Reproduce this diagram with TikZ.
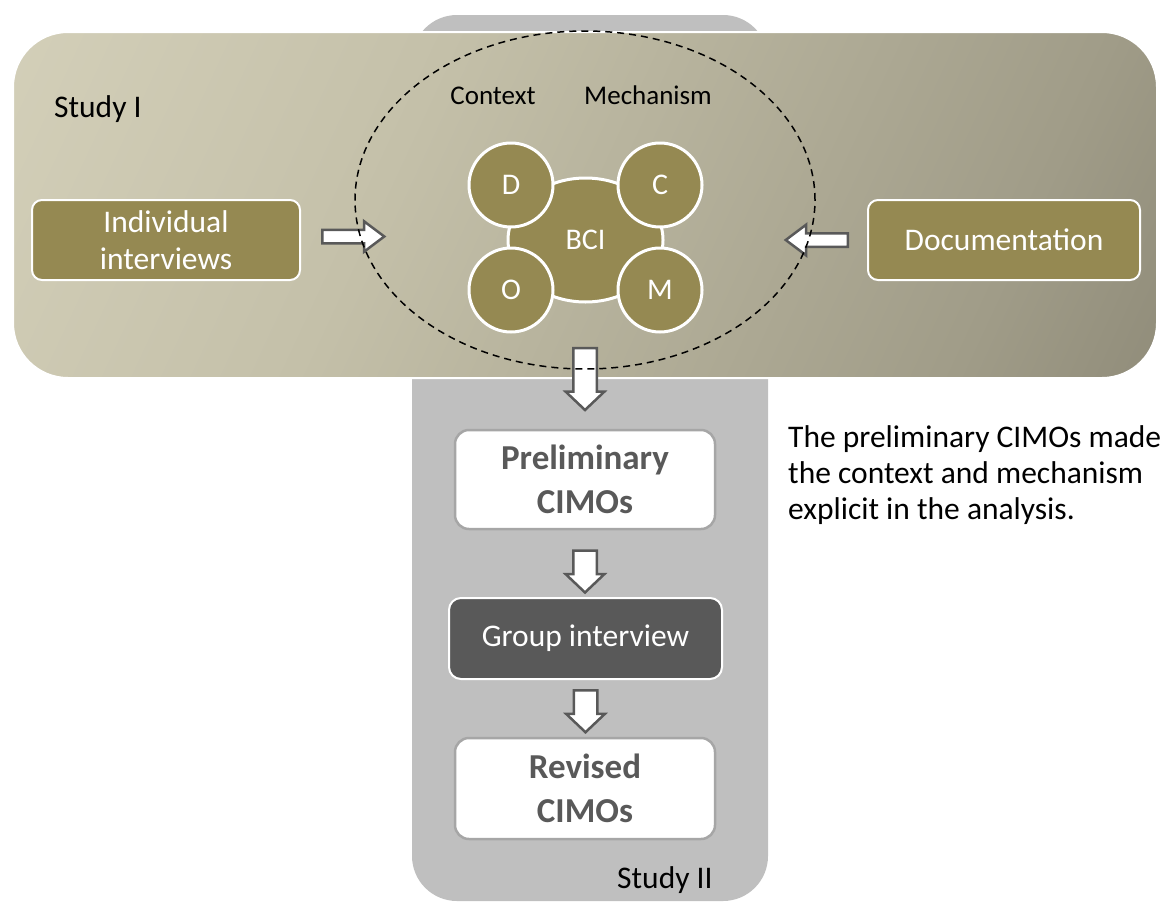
\documentclass[tikz,border=0pt]{standalone}
\usepackage{fontspec}
\setmainfont{Carlito}
\usetikzlibrary{shapes.arrows,shapes.geometric,calc}

\definecolor{boxolive}{RGB}{149,137,82}
\definecolor{panelgray}{RGB}{191,191,191}
\definecolor{arrowgray}{RGB}{89,89,89}
\definecolor{darkbox}{RGB}{89,89,89}
\definecolor{lightedge}{RGB}{166,166,166}
\definecolor{sA}{RGB}{222,218,196}
\definecolor{sB}{RGB}{196,192,169}
\definecolor{sC}{RGB}{160,156,136}
\definecolor{sD}{RGB}{120,116,100}

% light-to-dark band across the Study I panel
\pgfdeclarehorizontalshading{studyone}{100bp}{color(0bp)=(sA); color(13bp)=(sA); color(42bp)=(sB); color(67bp)=(sC); color(87bp)=(sD); color(100bp)=(sD)}

\tikzset{
  source/.style={rectangle, rounded corners=10pt, fill=boxolive, draw=white, line width=2pt,
    text=white, align=center, font=\fontsize{31.5}{37}\selectfont, inner sep=0pt},
  petal/.style={circle, fill=boxolive, draw=white, line width=3pt, minimum size=84pt,
    inner sep=0pt, text=white, font=\fontsize{30}{36}\selectfont},
  core/.style={ellipse, fill=boxolive, draw=white, line width=3pt, minimum width=155pt,
    minimum height=124pt, inner sep=0pt, text=white, font=\fontsize{30}{36}\selectfont},
  result/.style={rectangle, rounded corners=14pt, fill=white, draw=lightedge, line width=2.5pt,
    minimum width=260pt, text=darkbox, align=center, inner sep=0pt,
    font=\fontsize{35}{44}\selectfont\bfseries},
  session/.style={rectangle, rounded corners=12pt, fill=darkbox, draw=white, line width=2pt,
    minimum width=273pt, minimum height=81pt, text=white, inner sep=0pt,
    font=\fontsize{31.5}{37}\selectfont},
  label/.style={inner sep=0pt, font=\fontsize{31.5}{37}\selectfont},
  headlabel/.style={inner sep=0pt, font=\fontsize{27}{32}\selectfont},
  sidearrow/.style={single arrow, draw=arrowgray, fill=white, line width=2.5pt,
    inner sep=0pt, inner ysep=5.5pt, single arrow head extend=8.5pt,
    single arrow tip angle=74, minimum height=62pt, anchor=tail},
  downarrow/.style={single arrow, draw=arrowgray, fill=white, line width=2.5pt,
    inner sep=0pt, inner ysep=10.5pt, single arrow head extend=7.5pt,
    single arrow tip angle=93, minimum height=#1, anchor=tail, rotate=-90},
  scopering/.style={ellipse, draw=black, line width=1.5pt, dash pattern=on 7pt off 5pt,
    minimum width=460pt, minimum height=338pt, inner sep=0pt},
}

\begin{document}
\begin{tikzpicture}[x=1pt, y=-1pt]
\useasboundingbox (0,0) rectangle (1166,902);

% Study II column
\fill[panelgray, rounded corners=45pt] (412,15) rectangle (768,901);

% Study I band
\begin{scope}
  \clip[rounded corners=55pt] (13,32) rectangle (1157,378);
  \shade[shading=studyone, shading angle=-25] (-15,-395) rectangle (1185,805);
\end{scope}
\draw[white, line width=2pt, rounded corners=55pt] (13,32) rectangle (1157,378);

% labels of the two studies
\node[label, anchor=base west] (s1) at (54,117) {Study I};
\node[label, anchor=base west] (s2) at (617,888) {Study II};

% data sources
\node[source, minimum width=268pt, minimum height=80pt] (ind) at (166,240) {Individual\\interviews};
\node[source, minimum width=272pt, minimum height=80pt] (doc) at (1004,240) {Documentation};

% BCI with its four elements
\node[core] (bci) at (585.5,240) {BCI};
\node[petal] (D) at (511,185) {D};
\node[petal] (C) at (660,185) {C};
\node[petal] (O) at (511,290) {O};
\node[petal] (M) at (660,290) {M};

\node[headlabel, anchor=base] (ctx) at (493,104) {Context};
\node[headlabel, anchor=base] (mech) at (648,104) {Mechanism};

% Study II steps
\node[result, minimum height=99pt] (pre) at (585,479.5) {Preliminary\\CIMOs};
\node[session] (grp) at (585.5,638.5) {Group interview};
\node[result, minimum height=101pt] (rev) at (585,788.5) {Revised\\CIMOs};

% block arrows
\node[sidearrow] (a1) at ($(ind.east)+(20,-3.5)$) {};
\node[sidearrow, rotate=180] (a2) at ($(doc.west)+(-18,0)$) {};
\node[downarrow=62pt] (a3) at ($(pre.north)+(0,-82)$) {};
\node[downarrow=42pt] (a4) at ($(pre.south)+(0,19)$) {};
\node[downarrow=42pt] (a5) at ($(grp.south)+(0,9)$) {};

% dashed scope of the case
\node[scopering] (ring) at (585,200) {};

% note
\node[inner sep=0pt, anchor=north west, align=left, font=\fontsize{31.5}{36}\selectfont]
  (note) at (788,425) {The preliminary CIMOs made\\the context and mechanism\\explicit in the analysis.};
\end{tikzpicture}
\end{document}
